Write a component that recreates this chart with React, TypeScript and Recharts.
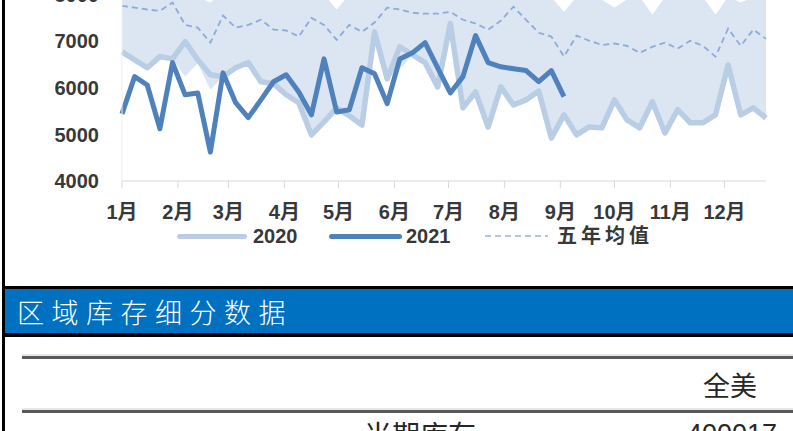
import React from 'react';
import { ComposedChart, Line, Area, XAxis, YAxis } from 'recharts';

// weekly stocks, week 0 = first week of January
const y2020 = [
  6770, 6600, 6430, 6670, 6620, 6990, 6600, 6280, 6240, 6430, 6540, 6130, 6090,
  5850, 5680, 4990, 5270, 5570, 5400, 5200, 7200, 6190, 6880, 6710, 6540, 6020,
  7380, 5570, 5910, 5160, 6020, 5630, 5740, 5930, 4920, 5420, 4990, 5160, 5140,
  5740, 5310, 5140, 5700, 5030, 5530, 5250, 5250, 5420, 6490, 5420, 5570, 5350,
];
const y2021 = [
  5440, 6240, 6060, 5120, 6540, 5850, 5890, 4620, 6320, 5680, 5360, 5740, 6130,
  6280, 5910, 5420, 6620, 5480, 5530, 6430, 6300, 5660, 6620, 6750, 6970, 6430,
  5890, 6240, 7120, 6540, 6450, 6410, 6370, 6130, 6370, 5810,
];
const avg5y = [
  7760, 7720, 7680, 7650, 7830, 7350, 7290, 6970, 7550, 7290, 7350, 7460, 7250,
  7230, 7100, 7500, 7350, 7030, 7350, 7200, 7400, 7720, 7680, 7610, 7590, 7590,
  7630, 7460, 7380, 7250, 7440, 7740, 7460, 7180, 7100, 6670, 7120, 7010, 6920,
  6950, 6900, 6750, 6880, 6970, 6840, 7010, 6900, 6670, 7270, 6900, 7250, 7050,
];
const bandMin = [
  6770, 6600, 6430, 6670, 6620, 6240, 6520, 5960, 6240, 6430, 6540, 6130, 6090,
  5850, 5680, 4990, 5270, 5570, 5400, 5200, 7200, 6190, 6400, 6710, 6540, 6020,
  7380, 5570, 5910, 5160, 6020, 5630, 5740, 5930, 4920, 5420, 4990, 5160, 5140,
  5740, 5310, 5140, 5700, 5030, 5530, 5250, 5250, 5420, 6490, 5420, 5570, 5350,
];
const bandMax = [
  8300, 8250, 8350, 8400, 8200, 8300, 7950, 7830, 8050, 8300, 8400, 8350, 8300,
  8250, 8400, 8100, 8000, 7680, 8000, 8200, 8350, 8400, 8300, 8450, 8500, 8400,
  8300, 8350, 8450, 8300, 8200, 8350, 8250, 8100, 7950, 7630, 7950, 8100, 7890,
  7720, 7900, 7950, 7570, 7950, 8100, 8050, 7950, 7570, 7950, 7830, 7950, 8100,
];

const monthLabels = ['1月', '2月', '3月', '4月', '5月', '6月', '7月', '8月', '9月', '10月', '11月', '12月'];
const monthStartDays = [0, 31, 59, 90, 120, 151, 181, 212, 243, 273, 304, 334];
const yTicks = [4000, 5000, 6000, 7000, 8000, 9000];

const data = avg5y.map((avg, i) => ({
  week: i,
  y2020: y2020[i],
  y2021: i < y2021.length ? y2021[i] : null,
  avg,
  band: [bandMin[i], bandMax[i]],
}));

const monthTicks = monthStartDays.map(d => d / 7);

const latin = '"Liberation Sans", "Noto Sans CJK SC", sans-serif';
const cjk = '"Noto Sans CJK SC", sans-serif';

const tickStyle = { fontSize: 20, fontWeight: 700, fill: '#383838', fontFamily: latin };

function LegendRow() {
  const txt: React.CSSProperties = {
    position: 'absolute', top: 224, height: 24, lineHeight: '24px',
    fontSize: 20, fontWeight: 700, color: '#383838', fontFamily: latin,
  };
  return (
    <>
      <div style={{ position: 'absolute', left: 177, top: 234, width: 70, height: 5, borderRadius: 3, background: '#b9cde5' }} />
      <div style={{ ...txt, left: 253 }}>2020</div>
      <div style={{ position: 'absolute', left: 329, top: 234, width: 73, height: 5, borderRadius: 3, background: '#4f81bd' }} />
      <div style={{ ...txt, left: 406 }}>2021</div>
      <svg style={{ position: 'absolute', left: 484, top: 232 }} width={66} height={8}>
        <line x1={1} y1={4} x2={64} y2={4} stroke="#95b3d7" strokeWidth={1.6} strokeDasharray="6 4" />
      </svg>
      <div style={{ ...txt, left: 557, letterSpacing: 4 }}>五年均值</div>
    </>
  );
}

export default function App() {
  return (
    <div style={{ position: 'absolute', left: 0, top: 0, width: 793, height: 431, overflow: 'hidden', background: '#fff' }}>
      <div style={{ position: 'absolute', left: 0, top: -62 }}>
        <ComposedChart width={793} height={293} data={data} margin={{ top: 10, right: 27, bottom: 0, left: 0 }}>
          <XAxis
            dataKey="week"
            type="number"
            domain={[0, 51]}
            ticks={monthTicks}
            interval={0}
            tickFormatter={(v: number) => monthLabels[monthTicks.indexOf(v)] ?? ''}
            tick={tickStyle}
            tickSize={7}
            tickMargin={17}
            height={50}
            axisLine={{ stroke: '#d9d9d9' }}
            tickLine={{ stroke: '#d9d9d9' }}
          />
          <YAxis
            domain={[4000, 9000]}
            ticks={yTicks}
            interval={0}
            width={122}
            tick={tickStyle}
            tickLine={false}
            tickSize={0}
            tickMargin={23}
            axisLine={{ stroke: '#efefef' }}
          />
          <Area dataKey="band" stroke="none" fill="#dce6f2" fillOpacity={1} isAnimationActive={false} />
          <Line dataKey="y2020" stroke="#b9cde5" strokeWidth={5.5} dot={false} strokeLinejoin="round" isAnimationActive={false} />
          <Line dataKey="avg" stroke="#8eaad8" strokeWidth={1.8} strokeDasharray="6 4" dot={false} isAnimationActive={false} />
          <Line dataKey="y2021" stroke="#4f81bd" strokeWidth={5} dot={false} strokeLinejoin="round" connectNulls={false} isAnimationActive={false} />
        </ComposedChart>
      </div>

      <LegendRow />

      {/* left frame */}
      <div style={{ position: 'absolute', left: 2, top: 0, width: 3, height: 431, background: '#000' }} />

      {/* section header */}
      <div style={{ position: 'absolute', left: 2, top: 286, width: 791, height: 3, background: '#000' }} />
      <div style={{ position: 'absolute', left: 5, top: 289, width: 788, height: 44, background: '#0070c0' }} />
      <div style={{ position: 'absolute', left: 2, top: 333, width: 791, height: 4, background: '#000' }} />
      <div style={{
        position: 'absolute', left: 17, top: 292, height: 40, lineHeight: '40px',
        fontFamily: cjk, fontSize: 27, fontWeight: 300, letterSpacing: 7.5, color: '#fff',
      }}>区域库存细分数据</div>

      {/* table start */}
      <div style={{ position: 'absolute', left: 22, top: 354, width: 771, height: 2, background: '#e6e6e6' }} />
      <div style={{ position: 'absolute', left: 22, top: 356, width: 771, height: 3, background: '#595959' }} />
      <div style={{ position: 'absolute', left: 22, top: 408, width: 771, height: 2, background: '#e6e6e6' }} />
      <div style={{ position: 'absolute', left: 22, top: 410, width: 771, height: 3, background: '#595959' }} />
      <div style={{
        position: 'absolute', right: 36, top: 366, height: 38, lineHeight: '38px',
        fontFamily: cjk, fontSize: 27, color: '#262626',
      }}>全美</div>
      <div style={{
        position: 'absolute', left: 364, top: 414, height: 40, lineHeight: '40px',
        fontFamily: cjk, fontSize: 28, color: '#262626',
      }}>当期库存</div>
      <div style={{
        position: 'absolute', left: 687, top: 414, height: 40, lineHeight: '40px',
        fontFamily: latin, fontSize: 27, color: '#262626',
      }}>400017</div>
    </div>
  );
}
